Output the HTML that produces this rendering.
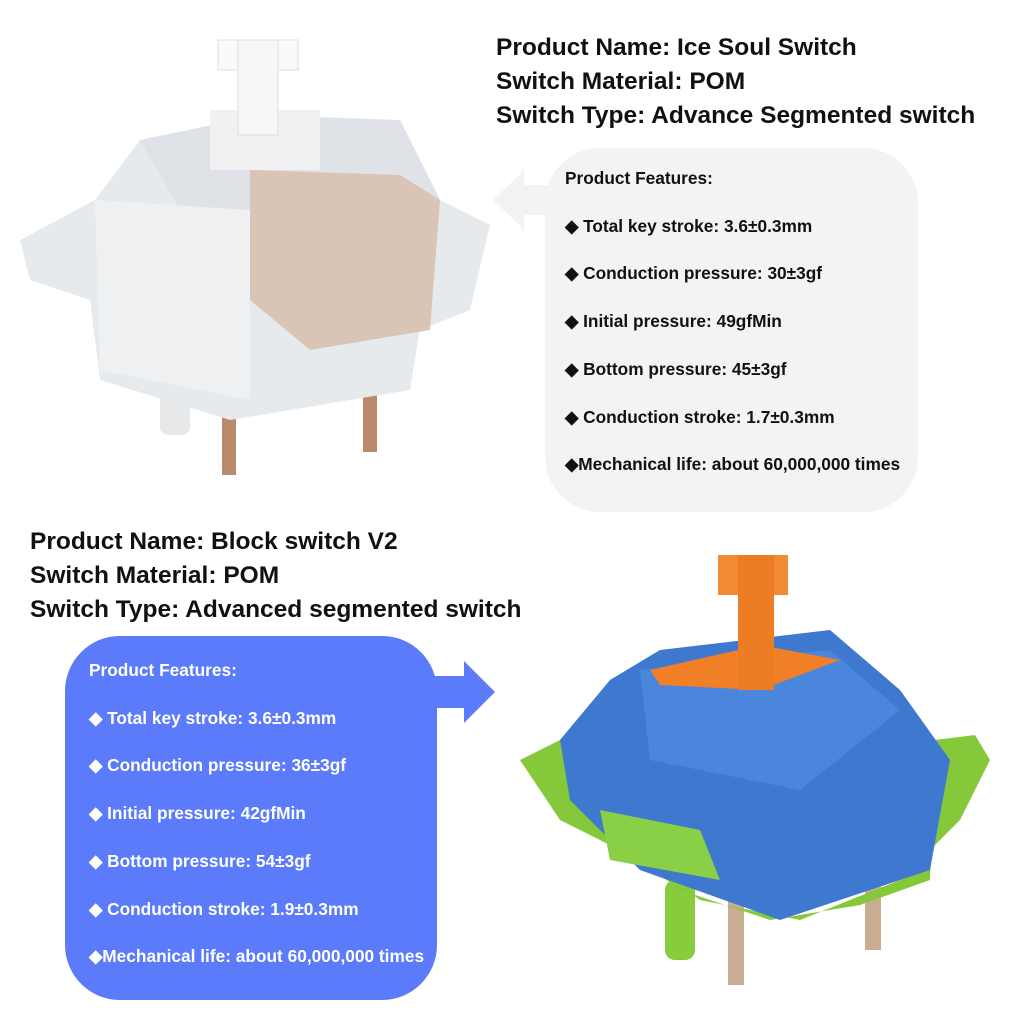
<!DOCTYPE html>
<html><head><style>
body{margin:0;width:1024px;height:1024px;background:#fff;position:relative;overflow:hidden;font-family:"Liberation Sans",sans-serif}
.t{position:absolute;font-weight:bold;color:#111;font-size:24.5px;line-height:34px}
.f{position:absolute;font-weight:bold;font-size:17.3px;line-height:47.7px}
</style></head><body>
<svg width="1024" height="1024" style="position:absolute;left:0;top:0">
<rect x="545" y="148" width="373" height="364" rx="55" fill="#f3f3f3"/>
<polygon points="493,200 524,170 524,185 550,185 550,215 524,215 524,230" fill="#f3f3f3"/>
<rect x="65" y="636" width="372" height="364" rx="55" fill="#5b7bfb"/>
<polygon points="495,692 464,661 464,676 430,676 430,708 464,708 464,723" fill="#5b7bfb"/>
<g>
<rect x="160" y="360" width="30" height="75" rx="8" fill="#e6e8ea"/>
<rect x="222" y="380" width="14" height="95" fill="#b98a6c"/>
<rect x="363" y="380" width="14" height="72" fill="#b98a6c"/>
<polygon points="20,240 95,200 140,140 400,120 440,200 490,225 470,310 420,330 410,390 230,420 100,380 90,300 30,280" fill="#e7eaed"/>
<polygon points="140,140 260,115 400,120 440,200 300,215 180,210" fill="#dfe2e6"/>
<polygon points="250,170 400,175 440,200 430,330 310,350 250,300" fill="#d9c4b5"/>
<polygon points="95,200 250,210 250,400 100,370" fill="#eef0f2"/>
<rect x="210" y="110" width="110" height="60" fill="#f1f1f1"/>
<rect x="218" y="40" width="80" height="30" fill="#fafafa" stroke="#ddd"/>
<rect x="238" y="40" width="40" height="95" fill="#f7f7f7" stroke="#ddd"/>
</g>
<g>
<rect x="665" y="880" width="30" height="80" rx="10" fill="#86cc3c"/>
<rect x="728" y="900" width="16" height="85" fill="#c9ad92"/>
<rect x="865" y="880" width="16" height="70" fill="#c9ad92"/>
<polygon points="520,760 570,735 590,820 700,900 800,920 900,880 960,820 990,760 975,735 935,740 930,880 860,905 770,920 680,890 640,860 560,820" fill="#85c93a"/>
<polygon points="560,740 610,680 660,650 830,630 900,690 950,760 930,870 780,920 640,870 570,800" fill="#3f78cf"/>
<polygon points="640,670 830,650 900,710 800,790 650,760" fill="#4a86dc"/>
<polygon points="600,810 700,830 720,880 610,860" fill="#8ad046"/>
<polygon points="650,670 760,645 840,660 760,690 660,685" fill="#f07f28"/>
<rect x="718" y="555" width="70" height="40" fill="#f08a33"/>
<rect x="738" y="555" width="36" height="135" fill="#ec7d25"/>
</g>
</svg>
<div class="t" style="left:496px;top:31px">Product Name: Ice Soul Switch<br>Switch Material: POM<br>Switch Type: Advance Segmented switch</div>
<div class="t" style="left:30px;top:525px">Product Name: Block switch V2<br>Switch Material: POM<br>Switch Type: Advanced segmented switch</div>
<div class="f" style="left:565px;top:155px;color:#111">Product Features:<br>◆ Total key stroke: 3.6±0.3mm<br>◆ Conduction pressure: 30±3gf<br>◆ Initial pressure: 49gfMin<br>◆ Bottom pressure: 45±3gf<br>◆ Conduction stroke: 1.7±0.3mm<br>◆Mechanical life: about 60,000,000 times</div>
<div class="f" style="left:89px;top:647px;color:#fff">Product Features:<br>◆ Total key stroke: 3.6±0.3mm<br>◆ Conduction pressure: 36±3gf<br>◆ Initial pressure: 42gfMin<br>◆ Bottom pressure: 54±3gf<br>◆ Conduction stroke: 1.9±0.3mm<br>◆Mechanical life: about 60,000,000 times</div>
</body></html>
